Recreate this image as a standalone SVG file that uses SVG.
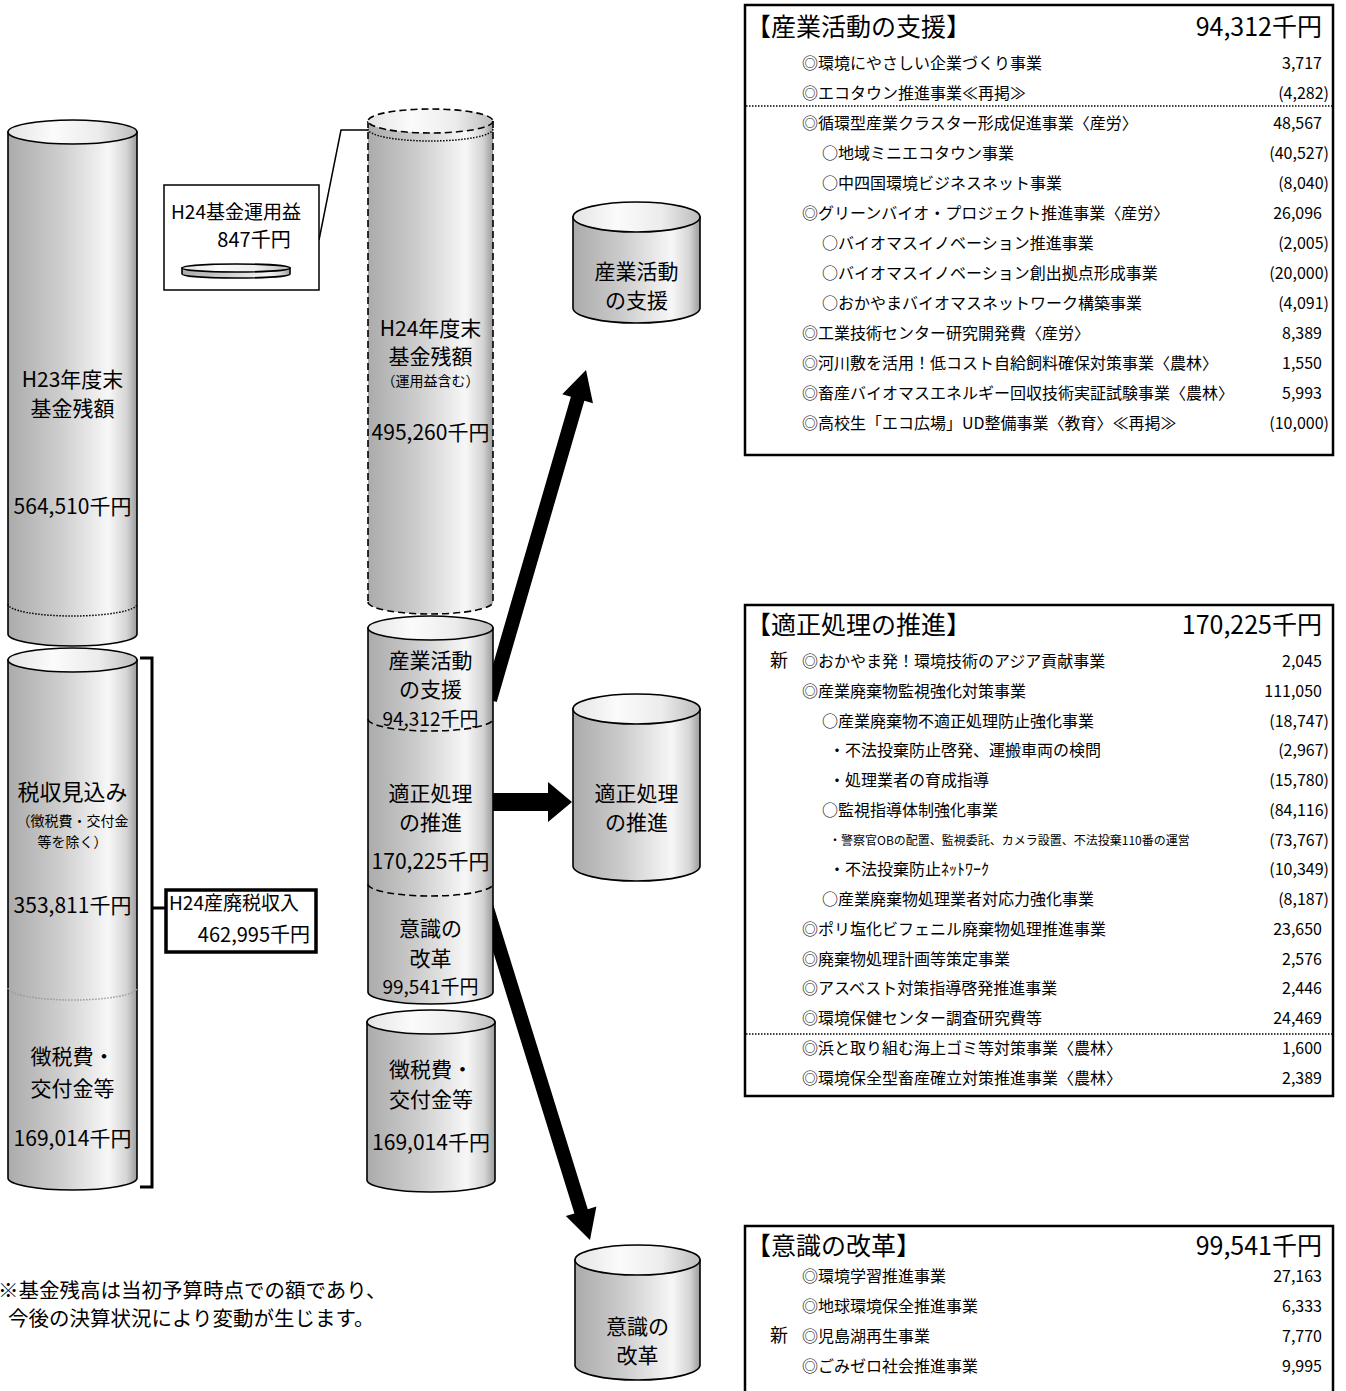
<svg xmlns="http://www.w3.org/2000/svg" width="1346" height="1391" viewBox="0 0 1346 1391">
<defs>
<linearGradient id="gb" x1="0" y1="0" x2="1" y2="0">
<stop offset="0" stop-color="#ababab"/>
<stop offset="0.4" stop-color="#cdcdcd"/>
<stop offset="0.78" stop-color="#f7f7f7"/>
<stop offset="0.92" stop-color="#d4d4d4"/>
<stop offset="1" stop-color="#9b9b9b"/>
</linearGradient>
<linearGradient id="gt" x1="0" y1="0" x2="1" y2="0">
<stop offset="0" stop-color="#e4e4e4"/>
<stop offset="0.35" stop-color="#fbfbfb"/>
<stop offset="0.7" stop-color="#ececec"/>
<stop offset="1" stop-color="#bcbcbc"/>
</linearGradient>
</defs>
<style>
text { font-family: "Noto Sans CJK JP", sans-serif; fill: #000; }
.c { font-size: 21px; text-anchor: middle; }
.c19 { font-size: 19px; text-anchor: middle; }
.s { font-size: 14px; text-anchor: middle; }
.body { fill: url(#gb); stroke: #000; stroke-width: 1.6; }
.bodyn { fill: url(#gb); stroke: none; }
.top { fill: url(#gt); stroke: #000; stroke-width: 1.6; }
.topd { fill: url(#gt); stroke: #000; stroke-width: 1.6; stroke-dasharray: 7 4; }
.dash { fill: none; stroke: #000; stroke-width: 1.6; stroke-dasharray: 7 4; }
.dot { fill: none; stroke: #000; stroke-width: 1.5; stroke-dasharray: 1.5 1.5; }
.gdot { fill: none; stroke: #999; stroke-width: 1.5; stroke-dasharray: 1.5 1.5; }
.line { fill: none; stroke: #000; stroke-width: 1.5; }
.tbl { fill: #fff; stroke: #000; stroke-width: 2.5; }
.sep { stroke: #000; stroke-width: 1.5; stroke-dasharray: 1.5 1.5; }
.ti { font-size: 25px; }
.tv { font-size: 25px; text-anchor: end; }
.it { font-size: 16px; }
.sm { font-size: 12px; }
.v { font-size: 16px; text-anchor: end; }
.arrow { fill: #000; stroke: none; }
</style>

<g id="connectors">
<polygon class="arrow" points="483.28,698.04 570.90,396.85 562.26,394.34 586,370 592.98,403.28 584.34,400.77 496.72,701.96"/>
<polygon class="arrow" points="490,793 548,793 548,782 572,802 548,822 548,811 490,811"/>
<polygon class="arrow" points="479.32,907.08 574.42,1213.43 565.82,1216.09 590,1240 596.38,1206.61 587.79,1209.27 492.69,902.92"/>
<polyline class="line" points="319,240 341,130 368,130"/>
<path d="M140,658 H152 V1187 H140 M152,908 H166" fill="none" stroke="#000" stroke-width="3"/>
</g>

<g id="h23-fund">
<path class="body" d="M8,132 V634 A64.5,12 0 0 0 137,634 V132 Z"/>
<ellipse class="top" cx="72.5" cy="132" rx="64.5" ry="12"/>
<path class="dot" d="M8,604 A64.5,12 0 0 0 137,604"/>
<text class="c" x="72.5" y="387">H23年度末</text>
<text class="c" x="72.5" y="416">基金残額</text>
<text class="c" x="72.5" y="514">564,510千円</text>
</g>

<g id="tax-revenue">
<path class="body" d="M8,660 V1178 A64.5,12 0 0 0 137,1178 V660 Z"/>
<ellipse class="top" cx="72.5" cy="660" rx="64.5" ry="12"/>
<path class="gdot" d="M8,988 A64.5,12 0 0 0 137,988"/>
<text class="c" x="72.5" y="800" style="font-size:22px">税収見込み</text>
<text class="s" x="72.5" y="826">（徴税費・交付金</text>
<text class="s" x="72.5" y="847">等を除く）</text>
<text class="c" x="72.5" y="913">353,811千円</text>
<text class="c" x="72.5" y="1064">徴税費・</text>
<text class="c" x="72.5" y="1096">交付金等</text>
<text class="c" x="72.5" y="1146">169,014千円</text>
</g>

<g id="h24-income-box">
<rect x="164" y="185" width="155" height="105" fill="#fff" stroke="#000" stroke-width="1.5"/>
<text x="171" y="219" style="font-size:19px">H24基金運用益</text>
<text x="254" y="247" style="font-size:20px;text-anchor:middle">847千円</text>
<path class="body" d="M182,268 V274 A54,4 0 0 0 290,274 V268 Z"/>
<ellipse class="top" cx="236" cy="268" rx="54" ry="4"/>
</g>

<g id="h24-tax-box">
<rect x="166" y="890" width="150" height="62" fill="#fff" stroke="#000" stroke-width="3.5"/>
<text x="169" y="910" style="font-size:19px">H24産廃税収入</text>
<text x="310" y="942" style="font-size:20px;text-anchor:end">462,995千円</text>
</g>

<g id="h24-fund">
<path class="bodyn" d="M368,121 V602 A62.5,12 0 0 0 493,602 V121 Z"/>
<path class="dash" d="M368,121 V602 M493,121 V602"/>
<path class="dash" d="M368,602 A62.5,12 0 0 0 493,602"/>
<ellipse class="topd" cx="430.5" cy="121" rx="62.5" ry="12"/>
<path class="dot" d="M368,129 A62.5,12 0 0 0 493,129"/>
<text class="c" x="430.5" y="336">H24年度末</text>
<text class="c" x="430.5" y="364">基金残額</text>
<text class="s" x="430.5" y="386">（運用益含む）</text>
<text class="c" x="430.5" y="440">495,260千円</text>
</g>

<g id="spending">
<path class="body" d="M368,628 V992 A62.5,12 0 0 0 493,992 V628 Z"/>
<ellipse class="top" cx="430.5" cy="628" rx="62.5" ry="12"/>
<path class="dash" d="M368,719 A62.5,12 0 0 0 493,719"/>
<path class="dash" d="M368,884 A62.5,12 0 0 0 493,884"/>
<text class="c" x="430.5" y="668">産業活動</text>
<text class="c" x="430.5" y="697">の支援</text>
<text class="c19" x="430.5" y="726">94,312千円</text>
<text class="c" x="430.5" y="801">適正処理</text>
<text class="c" x="430.5" y="830">の推進</text>
<text class="c" x="430.5" y="869">170,225千円</text>
<text class="c" x="430.5" y="936">意識の</text>
<text class="c" x="430.5" y="966">改革</text>
<text class="c19" x="430.5" y="994">99,541千円</text>
</g>

<g id="collection-cost">
<path class="body" d="M367,1022 V1180 A64,12 0 0 0 495,1180 V1022 Z"/>
<ellipse class="top" cx="431" cy="1022" rx="64" ry="12"/>
<text class="c" x="431" y="1077">徴税費・</text>
<text class="c" x="431" y="1107">交付金等</text>
<text class="c" x="431" y="1150">169,014千円</text>
</g>

<g id="cyl-industry">
<path class="body" d="M573,217 V308 A63.5,15 0 0 0 700,308 V217 Z"/>
<ellipse class="top" cx="636.5" cy="217" rx="63.5" ry="15"/>
<text class="c" x="636.5" y="279">産業活動</text>
<text class="c" x="636.5" y="308">の支援</text>
</g>

<g id="cyl-proper">
<path class="body" d="M573,709 V866 A63.5,15 0 0 0 700,866 V709 Z"/>
<ellipse class="top" cx="636.5" cy="709" rx="63.5" ry="15"/>
<text class="c" x="636.5" y="801">適正処理</text>
<text class="c" x="636.5" y="830">の推進</text>
</g>

<g id="cyl-awareness">
<path class="body" d="M575,1260 V1365 A62.5,15 0 0 0 700,1365 V1260 Z"/>
<ellipse class="top" cx="637.5" cy="1260" rx="62.5" ry="15"/>
<text class="c" x="637.5" y="1334">意識の</text>
<text class="c" x="637.5" y="1363">改革</text>
</g>

<g id="note">
<text x="-2" y="1298" style="font-size:20.5px">※基金残高は当初予算時点での額であり、</text>
<text x="8" y="1326" style="font-size:20.5px">今後の決算状況により変動が生じます。</text>
</g>

<g id="table-industry">
<rect class="tbl" x="745" y="5" width="588" height="450"/>
<line class="sep" x1="746" y1="106" x2="1332" y2="106"/>
<text class="ti" x="746" y="36">【産業活動の支援】</text>
<text class="tv" x="1322" y="36">94,312千円</text>
<text class="it" x="802" y="69">◎環境にやさしい企業づくり事業</text><text class="v" x="1322" y="69">3,717</text>
<text class="it" x="802" y="99">◎エコタウン推進事業≪再掲≫</text><text class="v" x="1329" y="99">(4,282)</text>
<text class="it" x="802" y="129">◎循環型産業クラスター形成促進事業〈産労〉</text><text class="v" x="1322" y="129">48,567</text>
<text class="it" x="822" y="159">○地域ミニエコタウン事業</text><text class="v" x="1329" y="159">(40,527)</text>
<text class="it" x="822" y="189">○中四国環境ビジネスネット事業</text><text class="v" x="1329" y="189">(8,040)</text>
<text class="it" x="802" y="219">◎グリーンバイオ・プロジェクト推進事業〈産労〉</text><text class="v" x="1322" y="219">26,096</text>
<text class="it" x="822" y="249">○バイオマスイノベーション推進事業</text><text class="v" x="1329" y="249">(2,005)</text>
<text class="it" x="822" y="279">○バイオマスイノベーション創出拠点形成事業</text><text class="v" x="1329" y="279">(20,000)</text>
<text class="it" x="822" y="309">○おかやまバイオマスネットワーク構築事業</text><text class="v" x="1329" y="309">(4,091)</text>
<text class="it" x="802" y="339">◎工業技術センター研究開発費〈産労〉</text><text class="v" x="1322" y="339">8,389</text>
<text class="it" x="802" y="369">◎河川敷を活用！低コスト自給飼料確保対策事業〈農林〉</text><text class="v" x="1322" y="369">1,550</text>
<text class="it" x="802" y="399">◎畜産バイオマスエネルギー回収技術実証試験事業〈農林〉</text><text class="v" x="1322" y="399">5,993</text>
<text class="it" x="802" y="429">◎高校生「エコ広場」UD整備事業〈教育〉≪再掲≫</text><text class="v" x="1329" y="429">(10,000)</text>
</g>

<g id="table-proper">
<rect class="tbl" x="745" y="605" width="588" height="491"/>
<line class="sep" x1="746" y1="1034" x2="1332" y2="1034"/>
<text class="ti" x="746" y="634">【適正処理の推進】</text>
<text class="tv" x="1322" y="634">170,225千円</text>
<text class="it" x="770" y="667" style="font-size:18px">新</text><text class="it" x="802" y="667">◎おかやま発！環境技術のアジア貢献事業</text><text class="v" x="1322" y="667">2,045</text>
<text class="it" x="802" y="697">◎産業廃棄物監視強化対策事業</text><text class="v" x="1322" y="697">111,050</text>
<text class="it" x="822" y="727">○産業廃棄物不適正処理防止強化事業</text><text class="v" x="1329" y="727">(18,747)</text>
<text class="it" x="829" y="756">・不法投棄防止啓発、運搬車両の検問</text><text class="v" x="1329" y="756">(2,967)</text>
<text class="it" x="829" y="786">・処理業者の育成指導</text><text class="v" x="1329" y="786">(15,780)</text>
<text class="it" x="822" y="816">○監視指導体制強化事業</text><text class="v" x="1329" y="816">(84,116)</text>
<text class="sm" x="829" y="845">・警察官OBの配置、監視委託、カメラ設置、不法投棄110番の運営</text><text class="v" x="1329" y="846">(73,767)</text>
<text class="it" x="829" y="875">・不法投棄防止ﾈｯﾄﾜｰｸ</text><text class="v" x="1329" y="875">(10,349)</text>
<text class="it" x="822" y="905">○産業廃棄物処理業者対応力強化事業</text><text class="v" x="1329" y="905">(8,187)</text>
<text class="it" x="802" y="935">◎ポリ塩化ビフェニル廃棄物処理推進事業</text><text class="v" x="1322" y="935">23,650</text>
<text class="it" x="802" y="965">◎廃棄物処理計画等策定事業</text><text class="v" x="1322" y="965">2,576</text>
<text class="it" x="802" y="994">◎アスベスト対策指導啓発推進事業</text><text class="v" x="1322" y="994">2,446</text>
<text class="it" x="802" y="1024">◎環境保健センター調査研究費等</text><text class="v" x="1322" y="1024">24,469</text>
<text class="it" x="802" y="1054">◎浜と取り組む海上ゴミ等対策事業〈農林〉</text><text class="v" x="1322" y="1054">1,600</text>
<text class="it" x="802" y="1084">◎環境保全型畜産確立対策推進事業〈農林〉</text><text class="v" x="1322" y="1084">2,389</text>
</g>

<g id="table-awareness">
<rect class="tbl" x="745" y="1226" width="588" height="200"/>
<text class="ti" x="746" y="1255">【意識の改革】</text>
<text class="tv" x="1322" y="1255">99,541千円</text>
<text class="it" x="802" y="1282">◎環境学習推進事業</text><text class="v" x="1322" y="1282">27,163</text>
<text class="it" x="802" y="1312">◎地球環境保全推進事業</text><text class="v" x="1322" y="1312">6,333</text>
<text class="it" x="770" y="1342" style="font-size:18px">新</text><text class="it" x="802" y="1342">◎児島湖再生事業</text><text class="v" x="1322" y="1342">7,770</text>
<text class="it" x="802" y="1372">◎ごみゼロ社会推進事業</text><text class="v" x="1322" y="1372">9,995</text>
</g>
</svg>
